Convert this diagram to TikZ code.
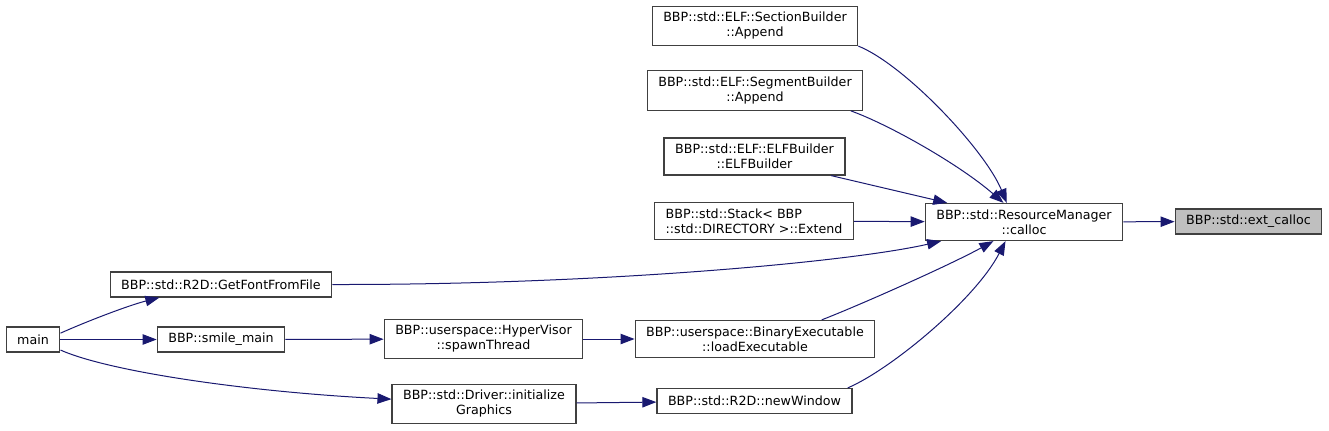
\documentclass[tikz,border=0pt]{standalone}
\usepackage{fontspec}
\setmainfont{DejaVu Sans}
\usetikzlibrary{arrows.meta}
\definecolor{edgeblue}{HTML}{191970}
\definecolor{boxgray}{HTML}{404040}
\definecolor{hilite}{HTML}{BFBFBF}

\begin{document}
\begin{tikzpicture}[x=0.75pt,y=-0.75pt,
 fn/.style={draw=boxgray,line width=0.9pt,fill=white,align=center,minimum height=18.75pt,inner xsep=8.3pt,inner ysep=4.6pt,font=\fontsize{9.5}{11.25}\selectfont},
 call/.style={draw=edgeblue,line width=0.75pt,-{Triangle[length=10.5pt,width=7.8pt,fill=edgeblue]}}]
\useasboundingbox (0,0) rectangle (1329,431);
\node[fn,fill=hilite] (ext) at (1248.5,221.5) {BBP::std::ext\_calloc};
\node[fn] (calloc) at (1024,222) {BBP::std::ResourceManager\\::calloc};
\node[fn] (secapp) at (755,26) {BBP::std::ELF::SectionBuilder\\::Append};
\node[fn] (segapp) at (755,90.5) {BBP::std::ELF::SegmentBuilder\\::Append};
\node[fn] (elfb) at (754.5,156.5) {BBP::std::ELF::ELFBuilder\\::ELFBuilder};
\node[fn,align=left] (stack) at (754,221) {BBP::std::Stack< BBP\\::std::DIRECTORY >::Extend};
\node[fn] (getfont) at (221,284.5) {BBP::std::R2D::GetFontFromFile};
\node[fn] (main) at (33,339.5) {main};
\node[fn] (smile) at (221,339.5) {BBP::smile\_main};
\node[fn] (spawn) at (483.5,339) {BBP::userspace::HyperVisor\\::spawnThread};
\node[fn] (loadexe) at (755,339) {BBP::userspace::BinaryExecutable\\::loadExecutable};
\node[fn] (initgfx) at (484,404) {BBP::std::Driver::initialize\\Graphics};
\node[fn] (newwin) at (754.5,401) {BBP::std::R2D::newWindow};

\draw[call] (calloc) -- (ext);
\draw[call] (secapp.-11) .. controls (905,65) and (985,150) .. (calloc.132);
\draw[call] (segapp.-12) .. controls (890,125) and (960,165) .. (calloc.137);
\draw[call] (elfb.-14) -- (calloc.166.6);
\draw[call] (stack) -- (calloc);
\draw[call] (getfont.east) .. controls (600,285) and (850,262) .. (calloc.193.4);
\draw[call] (loadexe.16.6) .. controls (860,305) and (950,265) .. (calloc.212);
\draw[call] (newwin.8.5) .. controls (890,370) and (975,300) .. (calloc.226.5);
\draw[call] (main.13.5) .. controls (90,320) and (130,305) .. (getfont.192.6);
\draw[call] (main) -- (smile);
\draw[call] (main.-21) .. controls (110,372) and (250,392) .. (initgfx.177);
\draw[call] (smile) -- (spawn);
\draw[call] (spawn) -- (loadexe);
\draw[call] (initgfx) -- (newwin);
\end{tikzpicture}
\end{document}
